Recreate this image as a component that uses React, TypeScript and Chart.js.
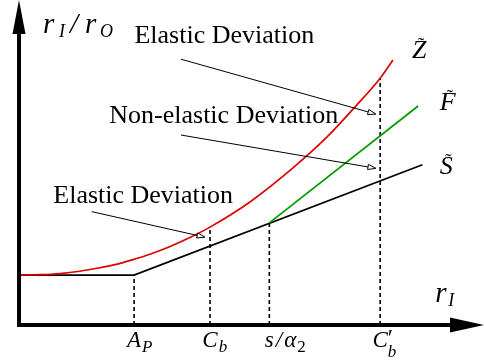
import React, { useEffect, useRef } from "react";
import { Chart, registerables } from "chart.js";

Chart.register(...registerables);

// ---- Data (diagram units) ----
const curveSx = [0, 2.97, 10.41];
const curveSy = [1.29, 1.29, 4.14];
const curveFx = [6.46, 10.3];
const curveFy = [2.64, 5.66];
const curveZx = [0, 0.54, 1.06, 1.57, 2.09, 2.48, 2.94, 3.38, 3.9, 4.41, 4.93, 5.96, 7.07, 7.95, 8.72, 9.32, 9.65];
const curveZy = [1.29, 1.3, 1.33, 1.39, 1.48, 1.56, 1.69, 1.83, 2.03, 2.26, 2.53, 3.18, 4.06, 4.86, 5.69, 6.38, 6.85];

// vertical dashed markers: position on r_I axis and the curve value they reach
const markX = [2.97, 4.93, 6.46, 9.32];
const markTop = [1.29, 2.53, 2.64, 6.38];
const tickMain = ["A", "C", "s", "C"];
const tickRest = ["", "", "/α", "′"];
const tickSub = ["P", "b", "2", "b"];

// curve names
const curveNames = ["Z", "F", "S"];
const curveNameX = [10.14, 10.86, 10.86];
const curveNameY = [6.9, 5.56, 3.9];

// annotation notes
const noteTexts = ["Elastic Deviation", "Non-elastic Deviation", "Elastic Deviation"];
const noteX = [2.98, 2.33, 0.885];
const noteY = [7.29, 5.22, 3.15];
const arrowFromX = [4.18, 4.18, 1.876];
const arrowFromY = [6.87, 4.91, 2.93];
const arrowToX = [9.21, 9.21, 4.8];
const arrowToY = [5.45, 4.05, 2.27];

const axisLabelY = { x: 0.62, y: 7.55 };
const axisLabelX = { x: 10.74, y: 0.59 };

const SERIF = '"Liberation Serif", "Times New Roman", serif';
const W = 484;
const H = 360;

function font(size: number, italic: boolean) {
  return `${italic ? "italic " : ""}${size}px ${SERIF}`;
}

const diagramPlugin = {
  id: "diagram",
  afterDraw(chart: any) {
    const ctx: CanvasRenderingContext2D = chart.ctx;
    const xs = chart.scales.x;
    const ys = chart.scales.y;
    const px = (v: number) => xs.getPixelForValue(v);
    const py = (v: number) => ys.getPixelForValue(v);
    const area = chart.chartArea;
    ctx.save();
    ctx.fillStyle = "#000";
    ctx.strokeStyle = "#000";

    // ---- axes ----
    const ox = px(0);
    const oy = py(0);
    ctx.lineWidth = 4;
    ctx.beginPath();
    ctx.moveTo(ox, oy + 2);
    ctx.lineTo(ox, area.top + 30);
    ctx.stroke();
    ctx.beginPath();
    ctx.moveTo(ox - 2, oy);
    ctx.lineTo(area.right - 30, oy);
    ctx.stroke();
    // arrow heads
    ctx.beginPath();
    ctx.moveTo(ox, area.top);
    ctx.lineTo(ox - 6.5, area.top + 34);
    ctx.lineTo(ox + 6.5, area.top + 34);
    ctx.closePath();
    ctx.fill();
    ctx.beginPath();
    ctx.moveTo(area.right, oy);
    ctx.lineTo(area.right - 34, oy - 7.5);
    ctx.lineTo(area.right - 34, oy + 7.5);
    ctx.closePath();
    ctx.fill();

    ctx.textBaseline = "alphabetic";
    ctx.textAlign = "left";

    // ---- axis labels ----
    {
      const x = px(axisLabelY.x);
      const y = py(axisLabelY.y);
      ctx.font = font(29, true);
      ctx.fillText("r", x, y);
      ctx.font = font(18, true);
      ctx.fillText("I", x + 16, y + 4);
      ctx.font = font(29, true);
      ctx.fillText("/", x + 27, y);
      ctx.fillText("r", x + 42, y);
      ctx.font = font(18, true);
      ctx.fillText("O", x + 57, y + 4);
    }
    {
      const x = px(axisLabelX.x);
      const y = py(axisLabelX.y);
      ctx.font = font(29, true);
      ctx.fillText("r", x, y);
      ctx.font = font(18, true);
      ctx.fillText("I", x + 13, y + 4);
    }

    // ---- tick labels ----
    const tickY = oy + 22;
    for (let i = 0; i < markX.length; i++) {
      const cx = px(markX[i]);
      ctx.font = font(23, true);
      const wMain = ctx.measureText(tickMain[i]).width;
      let x = cx - wMain / 2;
      ctx.fillText(tickMain[i], x, tickY);
      x += wMain;
      let subDy = 5;
      let subDx = 0;
      if (tickRest[i] === "′") {
        ctx.font = font(24, false);
        ctx.fillText("′", x, tickY - 2);
        subDy = 10;
        subDx = -1;
      } else if (tickRest[i]) {
        ctx.font = font(23, true);
        ctx.fillText("/", x + 2, tickY);
        x += ctx.measureText("/").width + 4;
        ctx.fillText("α", x, tickY);
        x += ctx.measureText("α").width;
      }
      const isDigit = /\d/.test(tickSub[i]);
      ctx.font = font(17, !isDigit);
      ctx.fillText(tickSub[i], x + subDx + 1, tickY + subDy);
    }

    // ---- curve names with tilde ----
    for (let i = 0; i < curveNames.length; i++) {
      const x = px(curveNameX[i]);
      const y = py(curveNameY[i]);
      ctx.font = font(26, true);
      const w = ctx.measureText(curveNames[i]).width;
      ctx.fillText(curveNames[i], x, y);
      ctx.font = font(20, false);
      const tw = ctx.measureText("˜").width;
      ctx.fillText("˜", x + w / 2 - tw / 2 + 2, y - 6);
    }

    // ---- notes ----
    ctx.font = font(26, false);
    for (let i = 0; i < noteTexts.length; i++) {
      ctx.fillText(noteTexts[i], px(noteX[i]), py(noteY[i]));
    }
    ctx.lineWidth = 1;
    for (let i = 0; i < arrowFromX.length; i++) {
      const x1 = px(arrowFromX[i]);
      const y1 = py(arrowFromY[i]);
      const x2 = px(arrowToX[i]);
      const y2 = py(arrowToY[i]);
      const ang = Math.atan2(y2 - y1, x2 - x1);
      const L = 8;
      const hw = 2.6;
      const bx = x2 - L * Math.cos(ang);
      const by = y2 - L * Math.sin(ang);
      ctx.beginPath();
      ctx.moveTo(x1, y1);
      ctx.lineTo(bx, by);
      ctx.stroke();
      ctx.beginPath();
      ctx.moveTo(x2, y2);
      ctx.lineTo(bx - hw * Math.sin(ang), by + hw * Math.cos(ang));
      ctx.lineTo(bx + hw * Math.sin(ang), by - hw * Math.cos(ang));
      ctx.closePath();
      ctx.fillStyle = "#fff";
      ctx.fill();
      ctx.stroke();
      ctx.fillStyle = "#000";
    }
    ctx.restore();
  },
};

export default function App() {
  const ref = useRef<HTMLCanvasElement | null>(null);
  useEffect(() => {
    if (!ref.current) return;
    const line = (xsArr: number[], ysArr: number[]) => xsArr.map((x, i) => ({ x, y: ysArr[i] }));
    const dashed = markX.map((x, i) => ({
      data: [
        { x, y: 0 },
        { x, y: markTop[i] },
      ],
      showLine: true,
      borderColor: "#000",
      borderWidth: 1.6,
      borderDash: [4, 3],
      pointRadius: 0,
      order: 5,
    }));
    const chart = new Chart(ref.current, {
      type: "scatter",
      data: {
        datasets: [
          {
            data: line(curveZx, curveZy),
            showLine: true,
            borderColor: "#e00000",
            borderWidth: 1.7,
            pointRadius: 0,
            cubicInterpolationMode: "monotone",
            order: 1,
          },
          {
            data: line(curveFx, curveFy),
            showLine: true,
            borderColor: "#009a00",
            borderWidth: 1.7,
            pointRadius: 0,
            order: 2,
          },
          {
            data: line(curveSx, curveSy),
            showLine: true,
            borderColor: "#000",
            borderWidth: 1.7,
            pointRadius: 0,
            order: 3,
          },
          ...dashed,
        ] as any,
      },
      options: {
        animation: false,
        responsive: false,
        devicePixelRatio: 1,
        layout: { padding: { left: 19, right: 0, top: 0, bottom: 35 } },
        scales: {
          x: { type: "linear", min: 0, max: 12, display: false },
          y: { type: "linear", min: 0, max: 8.4, display: false },
        },
        plugins: { legend: { display: false }, tooltip: { enabled: false } },
        events: [],
      } as any,
      plugins: [diagramPlugin],
    });
    return () => chart.destroy();
  }, []);
  return (
    <div style={{ position: "absolute", left: 0, top: 0, width: W, height: H, background: "#fff" }}>
      <canvas ref={ref} width={W} height={H} style={{ display: "block" }} />
    </div>
  );
}
